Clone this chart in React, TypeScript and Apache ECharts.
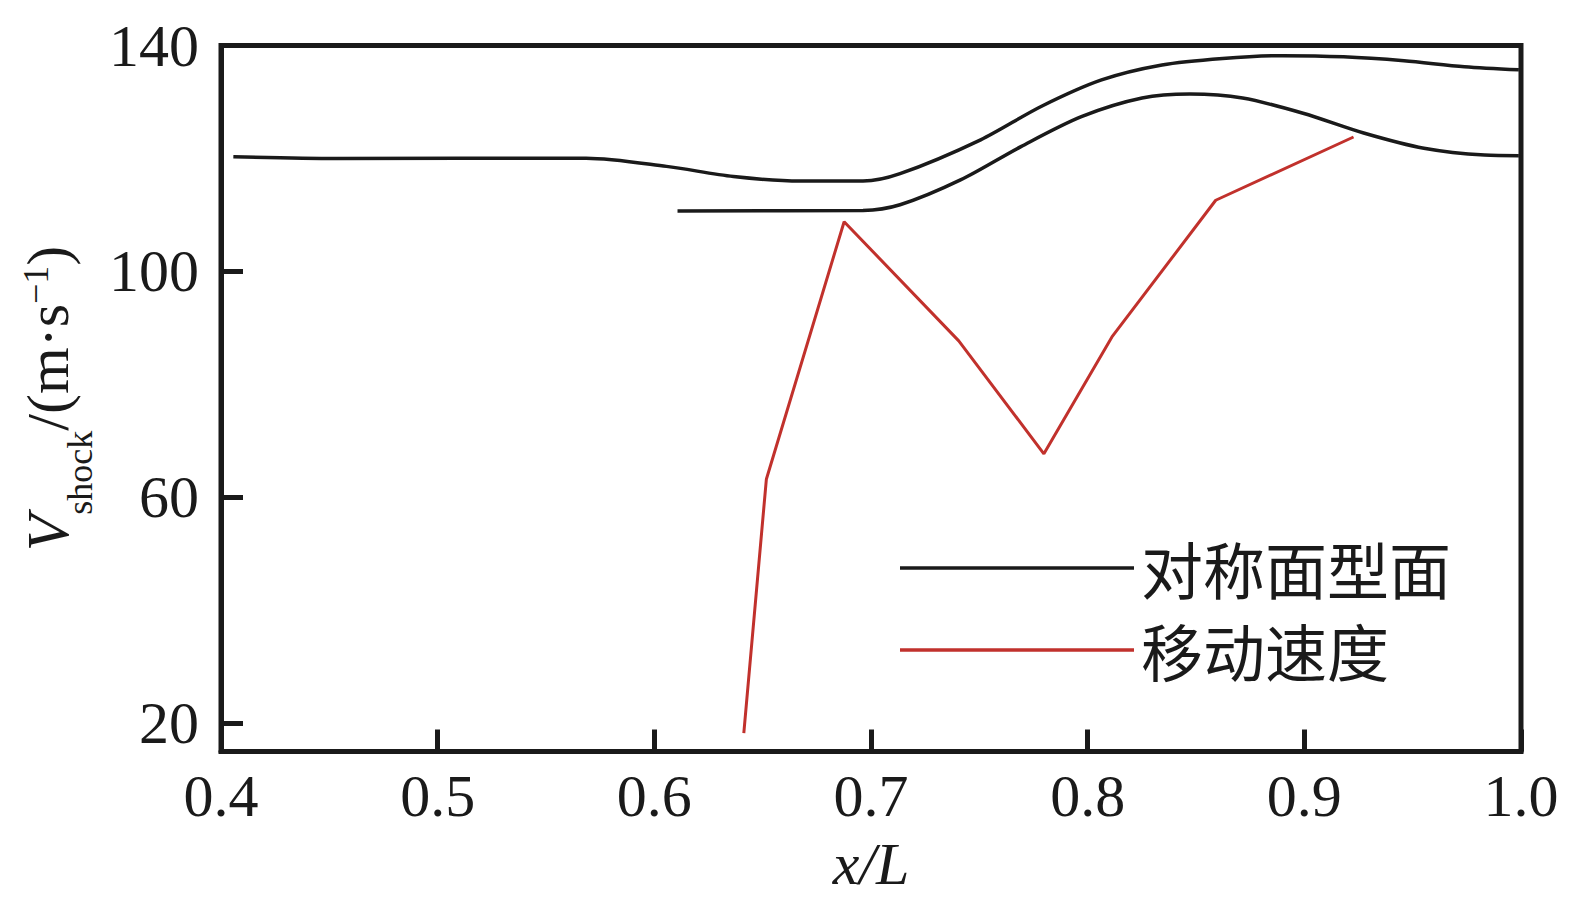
import React, { useEffect, useRef } from "react";
import * as echarts from "echarts";

// Data
const upperX = [0.4057, 0.4531, 0.5685, 0.6056, 0.6365, 0.6674, 0.6963, 0.7134, 0.7506, 0.7785, 0.8064, 0.8343, 0.8623, 0.8901, 0.9181, 0.946, 0.9739, 0.999];
const upperY = [120.3, 120.0, 120.05, 118.6, 116.8, 116.0, 116.0, 117.3, 123.3, 129.2, 133.9, 136.55, 137.7, 138.2, 138.0, 137.3, 136.25, 135.7];

const lowerX = [0.6107, 0.6963, 0.7134, 0.7413, 0.7692, 0.7971, 0.8251, 0.8472, 0.8715, 0.8994, 0.9274, 0.9552, 0.9832, 0.999];
const lowerY = [110.7, 110.8, 111.8, 116.2, 122.1, 127.4, 130.7, 131.4, 130.7, 128.0, 124.5, 121.8, 120.6, 120.5];

const speedX = [0.6413, 0.6517, 0.6876, 0.7405, 0.7798, 0.8112, 0.8591, 0.9227];
const speedY = [18.25, 63.2, 108.8, 87.7, 67.7, 88.4, 112.6, 123.8];

const yTicks = [20, 60, 100, 140];
const legendNames = ["对称面型面", "移动速度"];

const zip = (xs: number[], ys: number[]) => xs.map((x, i) => [x, ys[i]]);

const INK = "#1a1a1a";
const RED = "#c1312c";
const SERIF = "'Liberation Serif', 'DejaVu Serif', serif";

export default function App() {
  const ref = useRef<HTMLDivElement>(null);
  useEffect(() => {
    if (!ref.current) return;
    const chart = echarts.init(ref.current, undefined, { renderer: "svg" });
    chart.setOption({
      animation: false,
      backgroundColor: "#ffffff",
      grid: {
        left: 221,
        right: 71,
        top: 45.5,
        bottom: 149.5,
        show: true,
        borderColor: INK,
        borderWidth: 5,
        containLabel: false,
      },
      legend: {
        orient: "vertical",
        left: 895,
        top: 532,
        icon: "rect",
        itemWidth: 234,
        itemHeight: 3.5,
        itemGap: 20,
        data: legendNames,
        textStyle: {
          fontFamily: "'Noto Sans CJK SC', sans-serif",
          fontSize: 62,
          lineHeight: 62,
          color: INK,
          padding: [0, 0, 0, 2],
        },
      },
      xAxis: {
        type: "value",
        min: 0.4,
        max: 1.0,
        interval: 0.1,
        name: "x/L",
        nameLocation: "middle",
        nameGap: 82,
        nameTextStyle: {
          fontFamily: SERIF,
          fontStyle: "italic",
          fontSize: 60,
          color: INK,
        },
        axisLine: { show: true, lineStyle: { color: INK, width: 5 } },
        axisTick: { show: true, inside: true, length: 22, lineStyle: { color: INK, width: 5 } },
        axisLabel: {
          margin: 14,
          fontFamily: SERIF,
          fontSize: 60,
          color: INK,
          formatter: (v: number) => v.toFixed(1),
        },
        splitLine: { show: false },
      },
      yAxis: {
        type: "value",
        min: 15,
        max: 140,
        name: "{i|V}{sub|shock}{n|/(m·s}{sup|−1}{n|)}",
        nameLocation: "middle",
        nameRotate: 90,
        nameGap: 135,
        nameTextStyle: {
          color: INK,
          rich: {
            i: { fontFamily: SERIF, fontStyle: "italic", fontSize: 60, lineHeight: 60, verticalAlign: "top", color: INK },
            n: { fontFamily: SERIF, fontSize: 60, lineHeight: 60, verticalAlign: "top", color: INK },
            sub: { fontFamily: SERIF, fontSize: 36, lineHeight: 36, padding: [44, 0, 0, 0], verticalAlign: "top", color: INK },
            sup: { fontFamily: SERIF, fontSize: 36, lineHeight: 36, verticalAlign: "top", color: INK },
          },
        },
        axisLine: { show: true, lineStyle: { color: INK, width: 5 } },
        axisTick: {
          show: true,
          inside: true,
          length: 22,
          lineStyle: { color: INK, width: 5 },
          customValues: yTicks,
        },
        axisLabel: {
          margin: 22,
          fontFamily: SERIF,
          fontSize: 60,
          color: INK,
          customValues: yTicks,
        },
        splitLine: { show: false },
      },
      series: [
        {
          name: legendNames[0],
          type: "line",
          data: zip(upperX, upperY),
          smooth: 0.3,
          symbol: "none",
          lineStyle: { color: INK, width: 3.5 },
          itemStyle: { color: INK },
        },
        {
          name: legendNames[0],
          type: "line",
          data: zip(lowerX, lowerY),
          smooth: 0.3,
          symbol: "none",
          lineStyle: { color: INK, width: 3.5 },
          itemStyle: { color: INK },
        },
        {
          name: legendNames[1],
          type: "line",
          data: zip(speedX, speedY),
          symbol: "none",
          lineStyle: { color: RED, width: 3 },
          itemStyle: { color: RED },
        },
      ],
    });
    return () => chart.dispose();
  }, []);
  return (
    <div
      ref={ref}
      style={{ position: "fixed", left: 0, top: 0, width: 1592, height: 901, background: "#fff" }}
    />
  );
}
